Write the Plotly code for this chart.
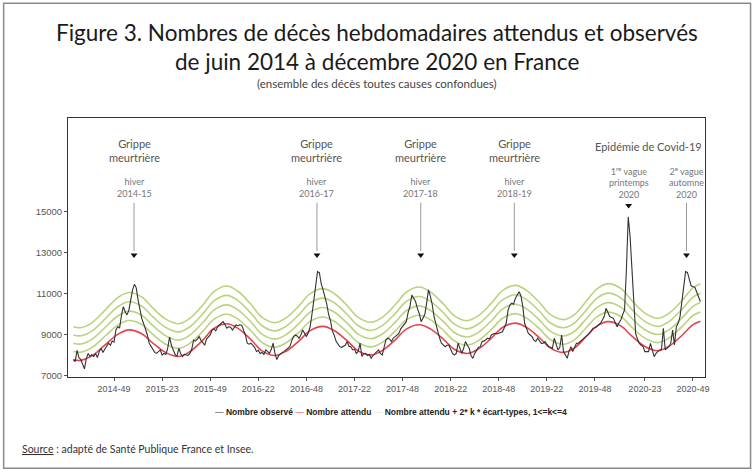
import plotly.graph_objects as go

# ---------------- DATA ----------------
# ISO week offsets: index 0 = 2014-W27 (2015 and 2020 have 53 weeks)
YEAR_OFFSET = {2014: -27, 2015: 25, 2016: 78, 2017: 130, 2018: 182, 2019: 234, 2020: 286}

def week_index(label):
    y, w = label.split("-")
    return YEAR_OFFSET[int(y)] + int(w)

tick_labels = ["2014-49", "2015-23", "2015-49", "2016-22", "2016-48", "2017-22", "2017-48",
               "2018-22", "2018-48", "2019-22", "2019-48", "2020-23", "2020-49"]
y_ticks = [7000, 9000, 11000, 13000, 15000]

# Observed weekly deaths, 2014-W27 .. 2020-W53
observed = [
    7800, 7700, 8250, 7900, 7800, 7600, 7350, 7850, 8100, 7950,
    8050, 7950, 8100, 7900, 8200, 8350, 8150, 8300, 8450, 8600,
    8500, 8700, 8650, 9250, 9400, 9350, 9950, 10380, 10150, 9980,
    10200, 10700, 11200, 11470, 11300, 10700, 10200, 9800, 9550, 9300,
    9000, 8600, 8450, 8270, 8150, 8100, 8200, 8270, 8020, 8100,
    8050, 8350, 8900, 8500, 8270, 8050, 7950, 8350, 8100, 7950,
    8050, 8020, 8000, 8100, 8300, 8750, 8700, 8800, 8920, 8750,
    8600, 8500, 8800, 8920, 9000, 9250, 9300, 9200, 9400, 9500,
    9600, 9650, 9500, 9330, 9400, 9380, 9240, 9350, 9490, 9450,
    9500, 9480, 9200, 9000, 8600, 8550, 8600, 8500, 8400, 8200,
    8250, 8100, 8150, 8050, 8270, 8200, 8100, 8300, 8600, 8100,
    7800, 8000, 8100, 8150, 8200, 8270, 8350, 8430, 8700, 8920,
    9000, 8950, 8840, 9000, 9240, 9050, 8920, 9100, 9400, 10000,
    10700, 11600, 12090, 12040, 11500, 11200, 10900, 10500, 10000, 9700,
    9200, 9000, 8700, 8550, 8430, 8400, 8460, 8500, 8680, 8450,
    8430, 8270, 8300, 8100, 8200, 8600, 7950, 8100, 8100, 8000,
    8050, 7870, 8000, 8100, 8200, 8270, 8100, 8020, 8400, 8760,
    8840, 8800, 8680, 8850, 8920, 9000, 9080, 9300, 9400, 9550,
    9650, 10100, 10400, 10950, 10800, 10630, 10300, 10050, 9650, 9800,
    10000, 10550, 11200, 10900, 10500, 9900, 9500, 9100, 8850, 8600,
    8500, 8430, 8500, 8510, 8300, 8100, 8020, 8100, 8600, 8300,
    8100, 8350, 8680, 8500, 8350, 8000, 7860, 8100, 8270, 8400,
    8430, 8680, 8700, 8760, 8840, 8800, 9000, 9050, 9080, 9050,
    9080, 9100, 9160, 9350, 9570, 10200, 10460, 10550, 10500, 10790,
    10950, 11110, 10900, 10380, 9570, 9300, 9080, 9000, 8920, 8750,
    8680, 8840, 8700, 8590, 8600, 8680, 8550, 8430, 8400, 8350,
    8840, 8500, 8270, 8400, 9000, 8190, 8000, 7860, 8200, 8430,
    8190, 8400, 8590, 8600, 8680, 8750, 8840, 8950, 9000, 9080,
    9200, 9330, 9350, 9400, 9500, 9570, 9730, 9900, 10300, 10050,
    9900, 9850, 9810, 9600, 9400, 9600, 9730, 10000, 10220, 12170,
    14770, 13800, 12000, 10220, 9080, 8800, 8590, 8500, 8430, 8190,
    8200, 8190, 8590, 8200, 7940, 8100, 8190, 8270, 8300, 9330,
    8270, 8350, 8430, 8600, 9240, 8510, 9400, 9570, 9900, 10630,
    11500, 12090, 12050, 11700, 11400, 11350, 11330, 11100, 10870, 10630,
]
observed_weeks = list(range(len(observed)))

# Expected deaths (smooth baseline) and its standard deviation, read at selected weeks
expected_weeks = [0, 4, 10, 17, 24, 30, 37, 43, 50, 57, 63, 70, 76, 83, 89, 96, 102, 109,
                  115, 122, 128, 135, 141, 148, 154, 161, 167, 174, 180, 187, 193, 200, 206,
                  213, 219, 226, 232, 239, 245, 252, 258, 265, 271, 277, 283, 289, 296, 302,
                  309, 316, 322, 329, 335, 339]
expected = [7790, 7760, 7978, 8505, 9032, 9250, 9060, 8600, 8140, 7950, 8184, 8750, 9316,
            9550, 9324, 8775, 8226, 8000, 8207, 8710, 9213, 9420, 9216, 8720, 8224, 8020,
            8236, 8760, 9284, 9500, 9296, 8800, 8304, 8100, 8316, 8840, 9364, 9580, 9371,
            8865, 8359, 8150, 8369, 8900, 9431, 9650, 9443, 8940, 8437, 8230, 8448, 8975,
            9502, 9671]
ecart_type = [202, 200, 202, 212, 224, 228, 224, 214, 204, 200, 203, 214, 225, 230, 226, 215,
              204, 200, 203, 214, 225, 230, 226, 215, 204, 200, 203, 214, 225, 230, 226, 215,
              204, 200, 203, 214, 225, 230, 226, 215, 204, 200, 203, 214, 226, 232, 228, 216,
              204, 198, 201, 212, 224, 228]
k_values = [1, 2, 3, 4]

# Annotations (events)
flu_labels = ["hiver<br>2014-15", "hiver<br>2016-17", "hiver<br>2017-18", "hiver<br>2018-19"]
flu_weeks = [32.8, 131.7, 187.8, 238.4]
covid_labels = ["1<sup>re</sup> vague<br>printemps<br>2020", "2<sup>e</sup> vague<br>automne<br>2020"]
covid_weeks = [300.2, 331.5]

# ---------------- FIGURE ----------------
C_OBS = "#333333"
C_EXP = "#e5444f"
C_GREEN = "#b9d47f"
TXT = "#555555"
FONT_T = "Lato, 'Open Sans', sans-serif"

fig = go.Figure()

for k in k_values:
    fig.add_trace(go.Scatter(
        x=expected_weeks, y=[e + 2 * k * s for e, s in zip(expected, ecart_type)],
        mode="lines", line=dict(color=C_GREEN, width=1.6, shape="spline"),
        showlegend=False, hoverinfo="skip"))

fig.add_trace(go.Scatter(x=expected_weeks, y=expected, mode="lines",
                         line=dict(color=C_EXP, width=1.6, shape="spline"),
                         showlegend=False, name="Nombre attendu"))
fig.add_trace(go.Scatter(x=observed_weeks, y=observed, mode="lines",
                         line=dict(color=C_OBS, width=1.1),
                         showlegend=False, name="Nombre observé"))

# arrows (gray stems + black heads)
arrow_tip = 12900
arrow_top = 15450
arrow_weeks = flu_weeks + [covid_weeks[1]]
shapes = []
for w in arrow_weeks:
    shapes.append(dict(type="line", xref="x", yref="y", x0=w, x1=w, y0=arrow_top, y1=arrow_tip + 200,
                       line=dict(color="#9a9a9a", width=1)))
shapes.append(dict(type="rect", xref="paper", yref="paper",
                   x0=-0.101, x1=1.0715, y0=-0.352, y1=1.443,
                   line=dict(color="#8a8a8a", width=1.5)))

tip_weeks = arrow_weeks + [covid_weeks[0]]
tip_vals = [arrow_tip] * len(arrow_weeks) + [15320]
fig.add_trace(go.Scatter(x=tip_weeks, y=tip_vals, mode="markers",
                         marker=dict(symbol="triangle-down", size=6, color="#111111"),
                         showlegend=False, hoverinfo="skip"))

annotations = []
for w, lab in zip(flu_weeks, flu_labels):
    annotations.append(dict(x=w, y=17980, xref="x", yref="y", showarrow=False,
                            text="Grippe<br>meurtrière", font=dict(family=FONT_T, size=11, color=TXT),
                            align="center", yanchor="middle"))
    annotations.append(dict(x=w, y=16200, xref="x", yref="y", showarrow=False, text=lab,
                            font=dict(family=FONT_T, size=9, color="#777777"), align="center",
                            yanchor="middle"))
annotations.append(dict(x=311, y=18200, xref="x", yref="y", yanchor="middle",
                        showarrow=False, text="Epidémie de Covid-19",
                        font=dict(family=FONT_T, size=11, color=TXT)))
for w, lab in zip(covid_weeks, covid_labels):
    annotations.append(dict(x=w, y=16450, xref="x", yref="y", showarrow=False, text=lab,
                            font=dict(family=FONT_T, size=9, color="#777777"), align="center",
                            yanchor="middle"))

# titles, legend, source
annotations += [
    dict(x=0.485, y=1.332, xref="paper", yref="paper", xanchor="center", yanchor="middle",
         showarrow=False,
         text="Figure 3. Nombres de décès hebdomadaires attendus et observés",
         font=dict(family=FONT_T, size=22.5, color="#1a1a1a")),
    dict(x=0.485, y=1.220, xref="paper", yref="paper", xanchor="center", yanchor="middle",
         showarrow=False,
         text="de juin 2014 à décembre 2020 en France",
         font=dict(family=FONT_T, size=22.5, color="#1a1a1a")),
    dict(x=0.485, y=1.135, xref="paper", yref="paper", xanchor="center", yanchor="middle",
         showarrow=False,
         text="(ensemble des décès toutes causes confondues)",
         font=dict(family=FONT_T, size=11.5, color="#444444")),
    dict(x=-0.075, y=-0.278, xref="paper", yref="paper", xanchor="left", yanchor="middle",
         showarrow=False,
         text="<u>Source</u> : adapté de Santé Publique France et Insee.",
         font=dict(family=FONT_T, size=10.5, color="#333333")),
    dict(x=0.507, y=-0.135, xref="paper", yref="paper", xanchor="center", yanchor="middle",
         showarrow=False,
         text=(f"<span style='color:{C_OBS}'>—</span> <b>Nombre observé</b> "
               f"<span style='color:{C_EXP}'>—</span> <b>Nombre attendu</b> "
               f"<span style='color:#d6e6bd'>—</span> <b>Nombre attendu + 2* k * écart-types, 1&lt;=k&lt;=4</b>"),
         font=dict(family="'Liberation Sans', Arial, sans-serif", size=8.5, color="#222222")),
]

fig.update_layout(
    width=754, height=472,
    margin=dict(l=68, r=49, t=118, b=95),
    paper_bgcolor="white", plot_bgcolor="white",
    annotations=annotations,
    shapes=shapes,
    showlegend=False,
)
fig.update_xaxes(range=[-2.9, 341.5], tickvals=[week_index(t) for t in tick_labels],
                 ticktext=tick_labels, showgrid=False, zeroline=False,
                 showline=True, mirror=True, linecolor="#333333", linewidth=1,
                 ticks="outside", ticklen=3, tickcolor="#555555",
                 tickfont=dict(family="'Liberation Sans', Arial, sans-serif", size=9, color="#555555"))
fig.update_yaxes(range=[6950, 19585], tickvals=y_ticks,
                 ticktext=[str(v) for v in y_ticks],
                 showgrid=False, zeroline=False,
                 showline=True, mirror=True, linecolor="#333333", linewidth=1,
                 ticks="outside", ticklen=3, tickcolor="#555555",
                 tickfont=dict(family="'Liberation Sans', Arial, sans-serif", size=9.5, color="#555555"))

fig.write_html("out.html", config={"displayModeBar": False},
               post_script="document.body.style.margin='0px';document.body.style.overflow='hidden';")
